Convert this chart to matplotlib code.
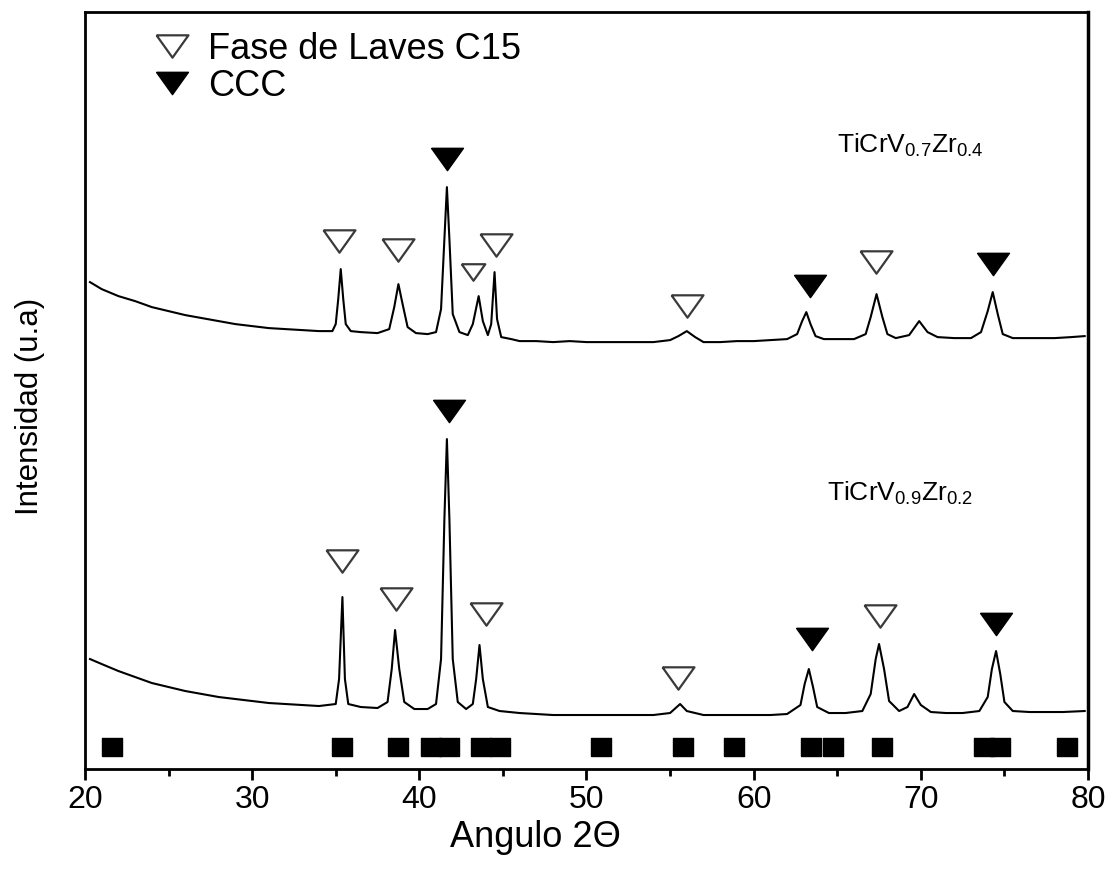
import numpy as np
import matplotlib
matplotlib.use('Agg')
import matplotlib.pyplot as plt

plt.rcParams['font.family'] = ['Liberation Sans', 'DejaVu Sans']
plt.rcParams['mathtext.fontset'] = 'custom'
plt.rcParams['mathtext.rm'] = 'Liberation Sans'

# upper pattern, TiCrV0.7Zr0.4 (intensity in arbitrary units)
x_up = [20.3, 21, 22, 23, 24, 25, 26, 27, 28, 29, 30, 31, 32, 33, 34, 34.8,
        35.0, 35.15, 35.3, 35.45, 35.6, 35.9, 36.5, 37.5, 38.2, 38.5, 38.75,
        39.0, 39.3, 39.8, 40.5, 41.0, 41.3, 41.5, 41.65, 41.8, 42.0, 42.4,
        42.9, 43.2, 43.55, 43.8, 44.1, 44.3, 44.5, 44.65, 44.9, 45.5, 46, 47,
        48, 49, 50, 51, 52, 53, 54, 55, 55.5, 56.0, 56.5, 57, 58, 59, 60, 61,
        62, 62.6, 62.9, 63.15, 63.4, 63.7, 64.2, 65, 66, 66.7, 67.0, 67.35,
        67.7, 68.0, 68.5, 69.3, 69.9, 70.4, 71, 72, 73, 73.6, 74.0, 74.3, 74.6,
        74.9, 75.5, 76, 77, 78, 79, 79.8]
y_up = [487, 480, 473, 468, 462, 458, 454, 451, 448, 445, 443, 441, 440, 439,
        438, 438, 445, 470, 500, 470, 445, 438, 437, 436, 440, 462, 485, 465,
        442, 436, 435, 437, 460, 530, 582, 530, 455, 437, 434, 445, 473, 448,
        434, 445, 497, 450, 432, 430, 428, 428, 427, 428, 427, 427, 427, 427,
        427, 429, 433, 438, 432, 427, 427, 428, 428, 429, 430, 435, 448, 457,
        445, 433, 430, 430, 430, 435, 452, 475, 452, 435, 431, 434, 448, 437,
        432, 431, 431, 437, 458, 477, 455, 435, 431, 431, 431, 431, 432, 433]

# lower pattern, TiCrV0.9Zr0.2
x_low = [20.3, 21, 22, 23, 24, 25, 26, 27, 28, 29, 30, 31, 32, 33, 34, 35.0,
         35.2, 35.4, 35.55, 35.75, 36.5, 37.5, 38.1, 38.35, 38.55, 38.8, 39.1,
         39.7, 40.5, 41.0, 41.3, 41.5, 41.65, 41.8, 42.0, 42.3, 42.8, 43.2,
         43.4, 43.6, 43.8, 44.1, 44.8, 46, 47, 48, 49, 50, 51, 52, 53, 54, 55,
         55.6, 56.0, 57, 58, 59, 60, 61, 62, 62.8, 63.05, 63.3, 63.55, 63.8,
         64.5, 65.5, 66.5, 67.0, 67.3, 67.5, 67.8, 68.1, 68.7, 69.2, 69.6,
         70.0, 70.6, 71.5, 72.5, 73.5, 74.0, 74.25, 74.5, 74.75, 75.0, 75.5,
         76.5, 77.5, 78.5, 79.8]
y_low = [110, 105, 98, 92, 86, 82, 78, 75, 72, 70, 68, 66, 65, 64, 63, 65, 90,
         172, 90, 65, 62, 61, 67, 100, 139, 100, 67, 60, 60, 65, 110, 250, 330,
         250, 110, 67, 60, 65, 90, 124, 90, 62, 58, 56, 55, 54, 54, 54, 54, 54,
         54, 54, 56, 65, 58, 54, 54, 54, 54, 54, 55, 64, 85, 100, 82, 62, 56,
         56, 58, 75, 110, 125, 100, 68, 58, 62, 75, 64, 57, 56, 56, 58, 72, 100,
         118, 95, 67, 58, 57, 57, 57, 58]

# phase markers
laves_up_x = [35.2, 38.75, 44.6, 56.0, 67.3]
laves_up_y = [528, 519, 524, 463, 507]
laves_small_x = [43.2]
laves_small_y = [497]
ccc_up_x = [41.65, 63.35, 74.3]
ccc_up_y = [610, 483, 505]

laves_low_x = [35.37, 38.6, 43.98, 55.47, 67.55]
laves_low_y = [208, 170, 155, 91, 153]
ccc_low_x = [41.77, 63.48, 74.48]
ccc_low_y = [358, 130, 145]

# reference pattern positions
ref_x = [21.6, 35.4, 38.7, 40.7, 41.8, 43.7, 44.8, 50.85, 55.8, 58.85, 63.4,
         64.75, 67.7, 73.8, 74.75, 78.75]
ref_y = [22] * len(ref_x)

tri = [(-1, 0.7), (1, 0.7), (0, -0.7), (-1, 0.7)]
rect = [(-1, -0.9), (1, -0.9), (1, 0.9), (-1, 0.9), (-1, -0.9)]

fig = plt.figure(figsize=(11.15, 8.78), dpi=100)
ax = fig.add_axes([0.0762, 0.123, 0.8996, 0.862])

ax.plot(x_up, y_up, c='k', lw=1.5)
ax.plot(x_low, y_low, c='k', lw=1.5)

ax.plot(laves_up_x, laves_up_y, ls='none', marker=tri, ms=23, mfc='white',
        mec='#3a3a3a', mew=1.6, label='Fase de Laves C15')
ax.plot(laves_small_x, laves_small_y, ls='none', marker=tri, ms=17,
        mfc='white', mec='#3a3a3a', mew=1.6)
ax.plot(laves_low_x, laves_low_y, ls='none', marker=tri, ms=23, mfc='white',
        mec='#3a3a3a', mew=1.6)
ax.plot(ccc_up_x, ccc_up_y, ls='none', marker=tri, ms=23, c='k', label='CCC')
ax.plot(ccc_low_x, ccc_low_y, ls='none', marker=tri, ms=23, c='k')

ax.plot(ref_x, ref_y, ls='none', marker=rect, ms=13.7, c='k')

ax.text(65.0, 625, r'TiCrV$_{\mathregular{0.7}}$Zr$_{\mathregular{0.4}}$',
        fontsize=19, va='center')
ax.text(64.4, 277, r'TiCrV$_{\mathregular{0.9}}$Zr$_{\mathregular{0.2}}$',
        fontsize=19, va='center')

ax.set_xlim(20, 80)
ax.set_ylim(0, 757)
ax.set_xticks([20, 30, 40, 50, 60, 70, 80])
ax.set_xticks([25, 35, 45, 55, 65, 75], minor=True)
ax.set_yticks([])
ax.tick_params(axis='x', which='major', direction='out', length=8, width=2,
               labelsize=23, pad=3)
ax.tick_params(axis='x', which='minor', direction='out', length=5, width=2)
for s in ax.spines.values():
    s.set_linewidth(2)
ax.spines['right'].set_linewidth(2.5)

ax.set_xlabel('Angulo 2Θ', fontsize=26)
ax.xaxis.set_label_coords(0.449, -0.066)
ax.set_ylabel('Intensidad (u.a)', fontsize=22.5)
ax.yaxis.set_label_coords(-0.04, 0.48)

leg = ax.legend(loc='upper left', bbox_to_anchor=(0.047, 1.008), frameon=False,
                fontsize=26, handlelength=0.8, handletextpad=0.6,
                labelspacing=0.05, borderaxespad=0.3)

fig.savefig('out.png', dpi=100)
